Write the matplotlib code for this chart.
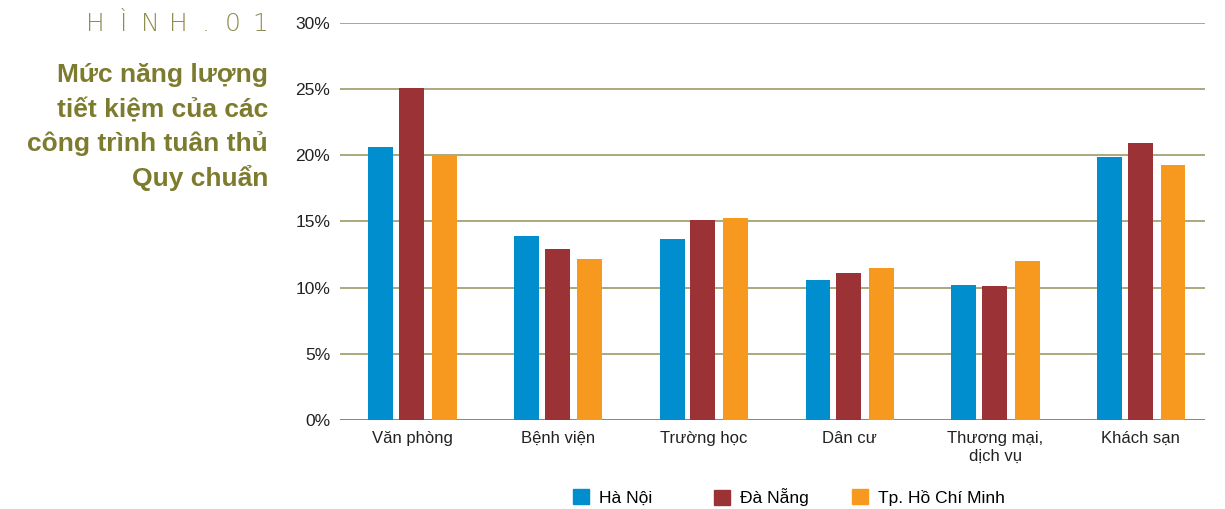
import matplotlib
matplotlib.use("Agg")
import matplotlib.pyplot as plt
import numpy as np

plt.rcParams['font.family'] = ['Liberation Sans', 'DejaVu Sans']

categories = ["Văn phòng", "Bệnh viện", "Trường học", "Dân cư", "Thương mại,\ndịch vụ", "Khách sạn"]
series_names = ["Hà Nội", "Đà Nẵng", "Tp. Hồ Chí Minh"]
ha_noi = [20.6, 13.9, 13.7, 10.6, 10.2, 19.85]
da_nang = [25.1, 12.9, 15.15, 11.1, 10.1, 20.9]
hcm = [20.0, 12.2, 15.3, 11.5, 12.0, 19.3]
yticks = [0, 5, 10, 15, 20, 25, 30]

colors = ["#008ECF", "#9B3336", "#F7991E"]
olive = "#7D7B2D"

fig = plt.figure(figsize=(12.25, 5.09), dpi=100)
ax = fig.add_axes([0.2776, 0.1749, 0.7061, 0.7799])

x = np.arange(len(categories))
width = 0.171
offsets = [-0.215, -0.005, 0.22]
for vals, off, c, name in zip([ha_noi, da_nang, hcm], offsets, colors, series_names):
    ax.bar(x + off, vals, width=width, color=c, label=name, zorder=3)

ax.set_xlim(-0.494, 5.44)
ax.set_ylim(0, 30)
ax.set_yticks(yticks)
ax.set_yticklabels([f"{v}%" for v in yticks], fontsize=12.5, color="#222222")
ax.set_xticks(x)
ax.set_xticklabels(categories, fontsize=12, color="#222222", linespacing=1.25)
ax.tick_params(axis="both", length=0)
ax.tick_params(axis="y", pad=7)
ax.tick_params(axis="x", pad=8)
for s in ax.spines.values():
    s.set_visible(False)
for v in yticks:
    ax.axhline(v, color="#a3a372" if v else "#85843a", lw=1.3, zorder=1)

# legend: one entry per fixed column
legend_x = [573, 714, 852]
for lx, c, name in zip(legend_x, colors, series_names):
    leg = fig.legend([plt.Rectangle((0, 0), 1, 1, color=c)], [name],
                     loc="center left", bbox_to_anchor=(lx / 1225, 0.023),
                     frameon=False, fontsize=12.5, handlelength=0.95,
                     handleheight=0.95, handletextpad=0.55, borderpad=0,
                     borderaxespad=0)

# heading
label = "HÌNH.01"
for i, ch in enumerate(label):
    fig.text((95.7 + i * 27.4) / 1225, 1 - 24 / 509, ch,
             ha="center", va="center", fontsize=18, color="#8f8d4f",
             family=["DejaVu Sans"], fontweight=200)

title_lines = ["Mức năng lượng", "tiết kiệm của các", "công trình tuân thủ", "Quy chuẩn"]
for i, line in enumerate(title_lines):
    fig.text(268 / 1225, 1 - (75 + i * 34.3) / 509, line, ha="right", va="center",
             fontsize=19, fontweight="bold", color=olive)

fig.savefig("out.png", dpi=100)
